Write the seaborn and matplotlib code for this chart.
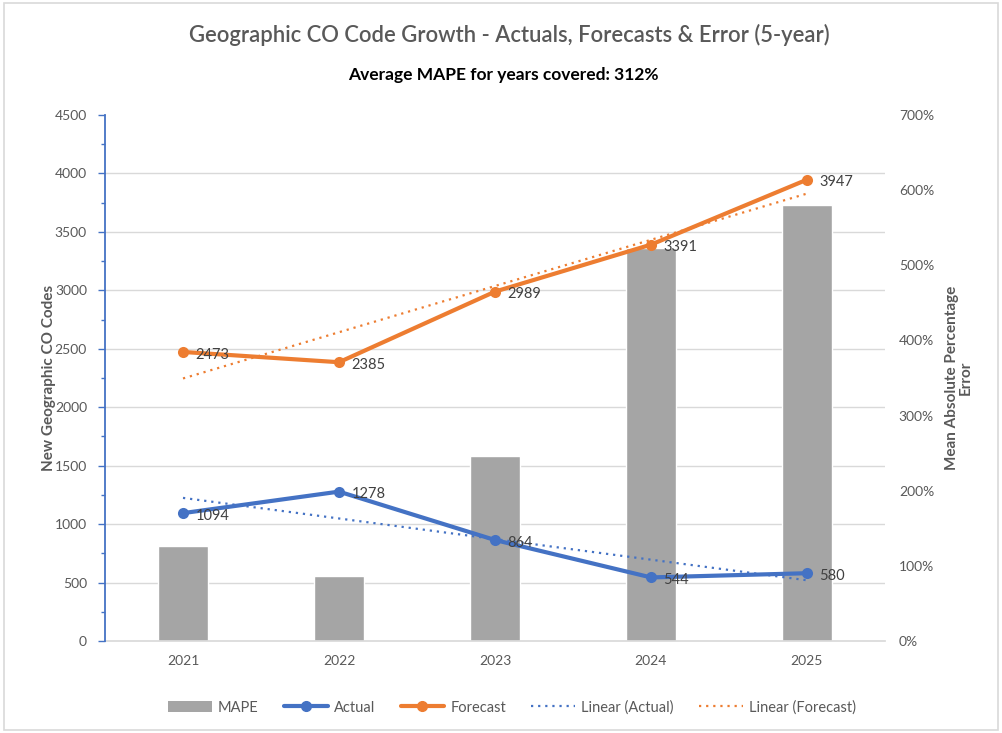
import numpy as np
import pandas as pd
import matplotlib
matplotlib.use("Agg")
import matplotlib.pyplot as plt
import seaborn as sns
from matplotlib.ticker import PercentFormatter, MultipleLocator
from matplotlib.lines import Line2D
from matplotlib.patches import Patch, Rectangle

years = ["2021", "2022", "2023", "2024", "2025"]
actual = [1094, 1278, 864, 544, 580]
forecast = [2473, 2385, 2989, 3391, 3947]
mape = [1.26, 0.866, 2.459, 5.233, 5.805]

BLUE = "#4472C4"
ORANGE = "#ED7D31"
GRAY_BAR = "#A5A5A5"
TXT = "#595959"

sns.set_theme(style="white")
plt.rcParams["font.family"] = ["Lato", "DejaVu Sans"]

df = pd.DataFrame({"Year": years, "pos": np.arange(len(years)),
                   "Actual": actual, "Forecast": forecast, "MAPE": mape})

fig = plt.figure(figsize=(10.02, 7.33), dpi=100)
ax = fig.add_axes([0.1048, 0.1255, 0.7784, 0.7176])
ax2 = ax.twinx()

# Bars (right axis)
sns.barplot(data=df, x="Year", y="MAPE", ax=ax2, color=GRAY_BAR, width=0.315,
            saturation=1, zorder=2)
ax2.set_ylim(0, 7)
ax2.yaxis.set_major_locator(MultipleLocator(1))
ax2.yaxis.set_major_formatter(PercentFormatter(1.0, decimals=0))
ax2.set_yticks(np.linspace(0, 7, 10), minor=True)
ax2.grid(which="minor", axis="y", color="#D9D9D9", linewidth=1.0, zorder=0)
ax2.grid(which="major", visible=False)
ax2.set_axisbelow(True)
ax2.tick_params(axis="y", which="both", length=0, labelsize=10, labelcolor=TXT, pad=10)
ax2.set_ylabel("")
ax2.set_xlabel("")
for s in ["top", "right", "left"]:
    ax2.spines[s].set_visible(False)
ax2.spines["bottom"].set_color("#D9D9D9")

# Lines (left axis)
ax.set_zorder(ax2.get_zorder() + 1)
ax.patch.set_visible(False)
sns.lineplot(data=df, x="pos", y="Actual", ax=ax, color=BLUE, linewidth=3,
             marker="o", markersize=8, markeredgewidth=0)
sns.lineplot(data=df, x="pos", y="Forecast", ax=ax, color=ORANGE, linewidth=3,
             marker="o", markersize=8, markeredgewidth=0)

# Linear trendlines
xs = df["pos"].to_numpy()
for col, c in [("Actual", BLUE), ("Forecast", ORANGE)]:
    k, b = np.polyfit(xs, df[col].to_numpy(), 1)
    ax.plot(xs, k * xs + b, color=c, linewidth=1.6, linestyle=(0, (1, 2.2)))

# Data labels
for col in ["Actual", "Forecast"]:
    for xv, yv in zip(xs, df[col]):
        ax.annotate(f"{yv}", (xv, yv), xytext=(9, -2), textcoords="offset points",
                    ha="left", va="center", fontsize=10.5, color="#404040")

ax.set_xlim(-0.5, len(years) - 0.5)
ax.set_xticks(xs)
ax.set_xticklabels(years)
ax.tick_params(axis="x", length=0, labelsize=10, labelcolor=TXT, pad=10, bottom=True,
               labelbottom=True)
ax.set_ylim(0, 4500)
ax.yaxis.set_major_locator(MultipleLocator(500))
ax.yaxis.set_minor_locator(MultipleLocator(250))
ax.tick_params(axis="y", which="major", length=5, width=1, color=BLUE, labelsize=10,
               labelcolor=TXT, direction="out", left=True, pad=8)
ax.tick_params(axis="y", which="minor", length=3, width=1, color=BLUE, direction="out", left=True)
ax.set_ylabel("")
ax.set_xlabel("")
for s in ["top", "right", "bottom"]:
    ax.spines[s].set_visible(False)
ax.spines["left"].set_color(BLUE)
ax.spines["left"].set_linewidth(1.3)
ax.grid(False)

# Axis titles
fig.text(0.049, 0.484, "New Geographic CO Codes", rotation=90, ha="center", va="center",
         fontsize=11, fontweight="bold", color=TXT)
fig.text(0.957, 0.484, "Mean Absolute Percentage\nError", rotation=90, ha="center",
         va="center", fontsize=11, fontweight="bold", color=TXT, linespacing=1.0)

# Titles
fig.text(0.508, 0.952, "Geographic CO Code Growth - Actuals, Forecasts & Error (5-year)",
         ha="center", va="center", fontsize=15.8, color=TXT, fontweight="semibold")
fig.text(0.502, 0.898, "Average MAPE for years covered: 312%", ha="center", va="center",
         fontsize=12.5, color="black", fontweight="bold")

# Legend
handles = [
    Patch(facecolor=GRAY_BAR, edgecolor="none"),
    Line2D([0], [0], color=BLUE, linewidth=3, marker="o", markersize=7),
    Line2D([0], [0], color=ORANGE, linewidth=3, marker="o", markersize=7),
    Line2D([0], [0], color=BLUE, linewidth=1.6, linestyle=(0, (1, 2.2))),
    Line2D([0], [0], color=ORANGE, linewidth=1.6, linestyle=(0, (1, 2.2))),
]
labels = ["MAPE", "Actual", "Forecast", "Linear (Actual)", "Linear (Forecast)"]
leg = fig.legend(handles, labels, loc="center", bbox_to_anchor=(0.511, 0.035), ncol=5,
                 frameon=False, fontsize=10.5, handlelength=3.0, handletextpad=0.4,
                 columnspacing=1.75, handleheight=0.7)
for t in leg.get_texts():
    t.set_color(TXT)

# Chart border
fig.patches.append(Rectangle((0.004, 0.004), 0.992, 0.992, transform=fig.transFigure,
                             fill=False, edgecolor="#D9D9D9", linewidth=1.2))

fig.savefig("out.png", dpi=100)
